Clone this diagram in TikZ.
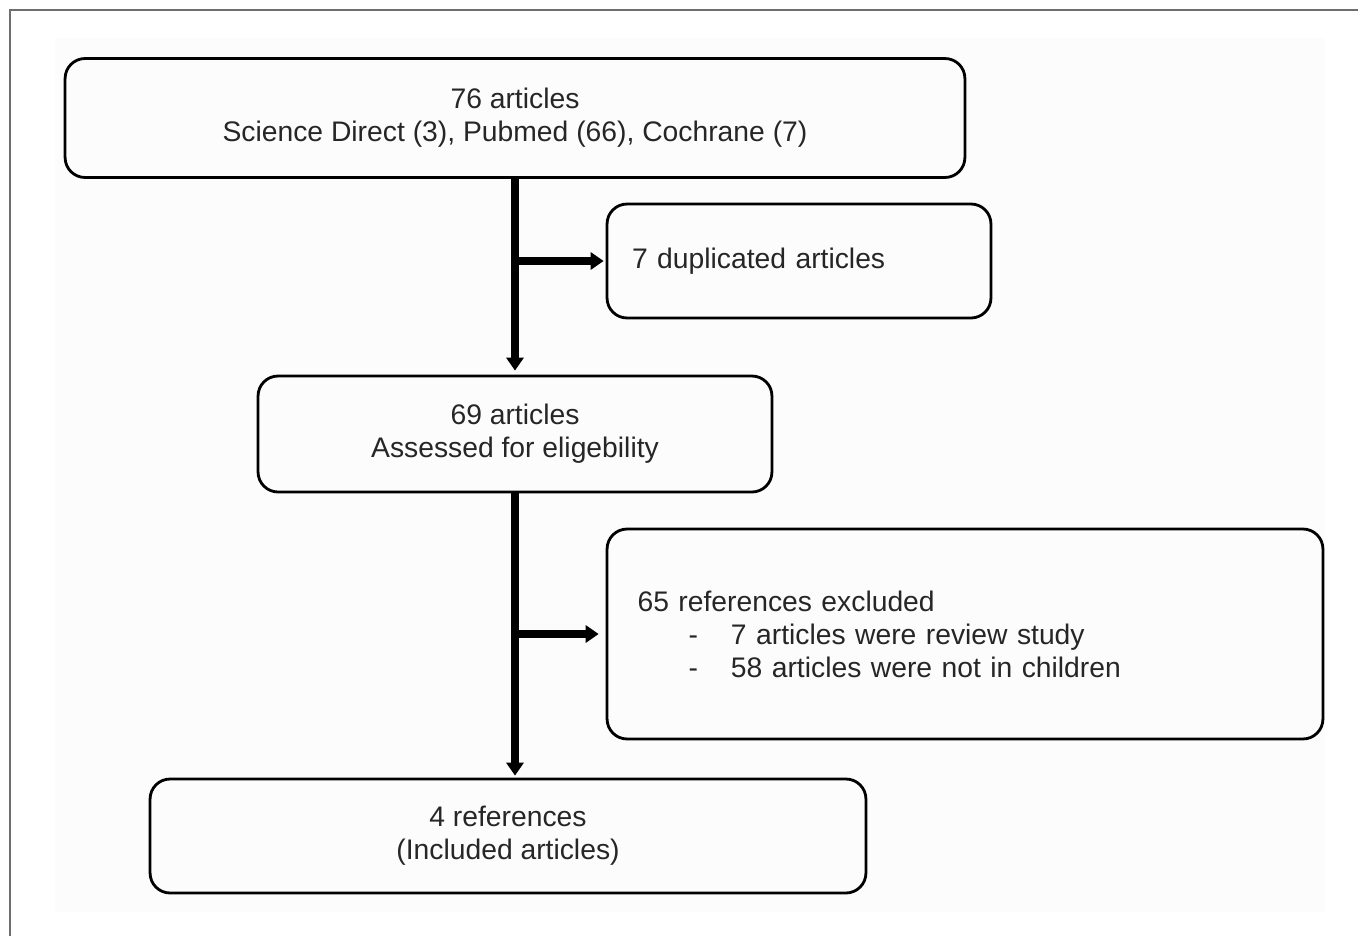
\documentclass[tikz,border=0pt]{standalone}
\usepackage{fontspec}
\setmainfont{Liberation Sans}
\usetikzlibrary{arrows.meta}
\definecolor{framegray}{HTML}{6E6E6E}
\definecolor{panelgray}{HTML}{FCFCFC}

\begin{document}
\begin{tikzpicture}[x=0.02cm,y=-0.02cm,>={Triangle[width=0.34cm,length=0.26cm]}]
              \useasboundingbox (0,0) rectangle (1358,936);
              \path[fill=panelgray] (55,38) rectangle (1325,912);
              \path[draw=framegray,line width=1.2pt] (10,936) -- (10,10) -- (1358,10);

              \tikzstyle{every node}=[draw,rounded corners=0.4cm,line width=1.6pt,text=black!85,font=\fontsize{16.1}{18.8}\selectfont];
                \path (515,118) node[minimum width=18cm,minimum height=2.38cm,align=center] (0) {76 articles\\Science Direct (3), Pubmed (66), Cochrane (7)};
                \path (799,261)   node[minimum width=7.68cm,minimum height=2.28cm,text width=6.68cm,align=left] (1) {7 duplicated articles};
                \path (515,434)   node[minimum width=10.28cm,minimum height=2.32cm,align=center] (2) {69 articles\\Assessed for eligebility};
                \path (965,634)   node[minimum width=14.32cm,minimum height=4.2cm,text width=13.1cm,align=left] (3) {65 references excluded\\\hspace*{1.02cm}-\hspace*{0.66cm}7 articles were review study\\\hspace*{1.02cm}-\hspace*{0.66cm}58 articles were not in children};
                \path (508,836)   node[minimum width=14.32cm,minimum height=2.28cm,align=center] (4) {4 references\\(Included articles)};
              \tikzstyle{every node}=[];

                \coordinate (a) at (0.south |- 1.west);
                \coordinate (b) at (2.south |- 3.west);

                \path[->,draw,line width=4.5pt,shorten >=0.08cm] (0) -- (2);
                \path[->,draw,line width=4.5pt,shorten >=0.04cm] (a) -- (1.west);
                \path[->,draw,line width=4.5pt,shorten >=0.04cm] (2.south) -- (2.south |- 4.north);
                \path[->,draw,line width=4.5pt,shorten >=0.14cm] (b) -- (3.west);
            \end{tikzpicture}
\end{document}
